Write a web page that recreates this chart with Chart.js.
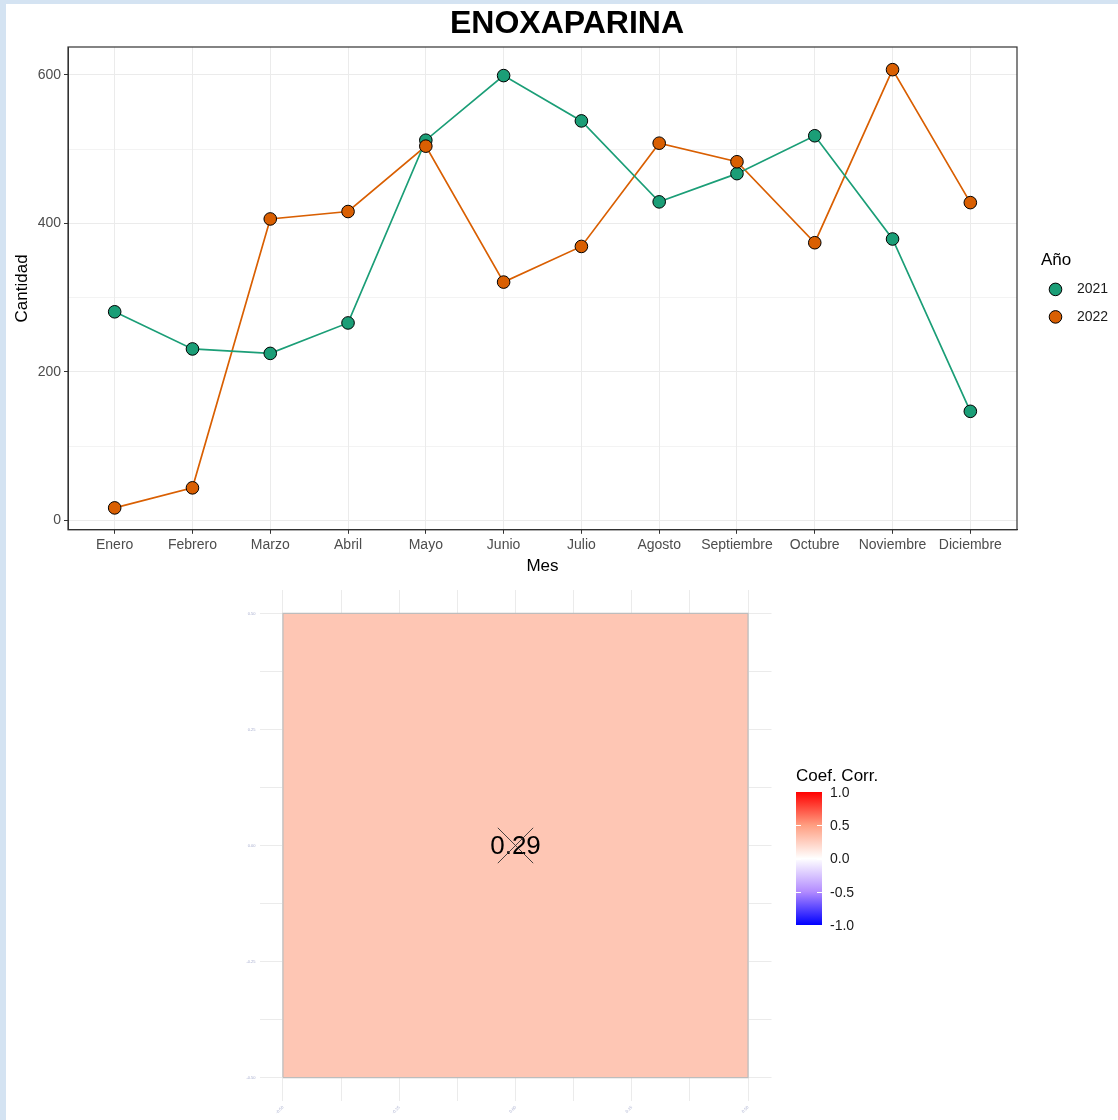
<!DOCTYPE html>
<html><head><meta charset="utf-8">
<script src="https://cdn.jsdelivr.net/npm/chart.js@4.4.0/dist/chart.umd.min.js"></script>
<style>
html,body{margin:0;padding:0;background:#D4E3F2;}
body{width:1118px;height:1120px;position:relative;overflow:hidden;}
#wrap{position:absolute;left:6px;top:4px;width:1112px;height:1116px;background:#fff;}
#c1{position:absolute;left:0;top:0;}
#c2{position:absolute;left:0;top:576px;}
</style></head><body>
<div id="wrap"><canvas id="c1" width="1112" height="576"></canvas><canvas id="c2" width="1112" height="540"></canvas></div>
<script>
// ---- data ----
const months = ['Enero','Febrero','Marzo','Abril','Mayo','Junio','Julio','Agosto','Septiembre','Octubre','Noviembre','Diciembre'];
const year2021 = [281, 231, 225, 266, 512, 599, 538, 429, 467, 518, 379, 147];
const year2022 = [17, 44, 406, 416, 504, 321, 369, 508, 483, 374, 607, 428];
const seriesLabels = ['2021', '2022'];
const yTickLabels = [0, 200, 400, 600];
const chartTitle = 'ENOXAPARINA';
const corrValue = 0.29;
const corrCell = {x: 0, y: 0};
const colorbarTicks = [-1, -0.5, 0, 0.5, 1];

// ---- styles ----
const FONT = "'Liberation Sans', Arial, sans-serif";
const seriesColors = ['#1B9E77', '#D95F02'];
const tileColor = '#FEC6B4';
const colorbarStops = [[-1,'#0000FF'],[-0.5,'#B28BFF'],[0,'#FFFFFF'],[0.5,'#FF9E81'],[1,'#FF0000']];

const toPts = arr => arr.map((v, i) => ({x: i, y: v}));
const isMajor = v => yTickLabels.includes(Math.round(v));

const framePlugin = {
  id: 'frame',
  afterDraw(chart) {
    const {ctx, chartArea: a} = chart;
    ctx.save();
    ctx.strokeStyle = '#333333';
    ctx.lineWidth = 1.2;
    ctx.strokeRect(a.left, a.top, a.right - a.left, a.bottom - a.top);
    ctx.restore();
  }
};

const titlePlugin = {
  id: 'ggTitle',
  afterDraw(chart) {
    const {ctx, width} = chart;
    ctx.save();
    ctx.fillStyle = '#000';
    ctx.font = 'bold 32px ' + FONT;
    ctx.textAlign = 'center';
    ctx.textBaseline = 'middle';
    ctx.fillText(chartTitle, width / 2 + 5, 20);
    ctx.restore();
  }
};

const legendPlugin = {
  id: 'ggLegend',
  afterDraw(chart) {
    const {ctx, chartArea: a} = chart;
    const cy = (a.top + a.bottom) / 2;
    ctx.save();
    ctx.fillStyle = '#000';
    ctx.font = '17px ' + FONT;
    ctx.textBaseline = 'middle';
    ctx.textAlign = 'left';
    ctx.fillText('Año', a.right + 24, cy - 28.5);
    seriesLabels.forEach((lab, i) => {
      const y = cy + 1 + i * 27.5;
      ctx.beginPath();
      ctx.arc(a.right + 38.5, y, 6.3, 0, Math.PI * 2);
      ctx.fillStyle = seriesColors[i];
      ctx.fill();
      ctx.lineWidth = 1;
      ctx.strokeStyle = '#000';
      ctx.stroke();
      ctx.fillStyle = '#1A1A1A';
      ctx.font = '14px ' + FONT;
      ctx.fillText(lab, a.right + 60, y);
    });
    ctx.restore();
  }
};

const lineDatasets = [year2021, year2022].map((arr, i) => ({
  label: seriesLabels[i] + ' línea', data: toPts(arr), showLine: true,
  borderColor: seriesColors[i], borderWidth: 1.7, pointRadius: 0, order: 3
}));
const pointDatasets = [year2021, year2022].map((arr, i) => ({
  label: seriesLabels[i], data: toPts(arr), showLine: false,
  pointRadius: 6.3, pointBackgroundColor: seriesColors[i], pointBorderColor: '#000',
  pointBorderWidth: 1, order: 2 - i
}));

new Chart(document.getElementById('c1'), {
  type: 'scatter',
  data: {datasets: [...lineDatasets, ...pointDatasets]},
  options: {
    responsive: false, animation: false, events: [],
    layout: {autoPadding: false, padding: {left: 6, right: 101, top: 43, bottom: 3}},
    plugins: {legend: {display: false}, tooltip: {enabled: false}, title: {display: false}},
    scales: {
      x: {
        type: 'linear', min: -0.6, max: months.length - 1 + 0.6,
        ticks: {stepSize: 1, includeBounds: false, autoSkip: false, maxRotation: 0, minRotation: 0,
          maxTicksLimit: 40, padding: 3, color: '#4D4D4D', font: {family: FONT, size: 14},
          callback: v => months[Math.round(v)] ?? ''},
        grid: {color: '#EBEBEB', lineWidth: 1, tickLength: 4, tickColor: '#333333'},
        border: {display: true, color: '#333333', width: 1},
        title: {display: true, text: 'Mes', color: '#000', font: {family: FONT, size: 17}, padding: {top: 0, bottom: 0}}
      },
      y: {
        type: 'linear', min: -12.5, max: 637.5,
        afterFit: s => { s.width = 56; },
        ticks: {stepSize: 100, includeBounds: false, padding: 3, color: '#4D4D4D',
          font: {family: FONT, size: 14}, callback: v => isMajor(v) ? String(v) : ''},
        grid: {color: '#EBEBEB', lineWidth: c => (c.tick && isMajor(c.tick.value)) ? 1 : 0.6,
          tickLength: 4, tickColor: c => (c.tick && isMajor(c.tick.value)) ? '#333333' : 'rgba(0,0,0,0)'},
        border: {display: true, color: '#333333', width: 1},
        title: {display: true, text: 'Cantidad', color: '#000', font: {family: FONT, size: 17}, padding: {top: 0, bottom: 0}}
      }
    }
  },
  plugins: [framePlugin, legendPlugin, titlePlugin]
});

// ---- correlation tile chart ----
const c = corrCell;
const tilePoints = [
  {x: c.x - 0.5, y: c.y - 0.5}, {x: c.x + 0.5, y: c.y - 0.5},
  {x: c.x + 0.5, y: c.y + 0.5}, {x: c.x - 0.5, y: c.y + 0.5}, {x: c.x - 0.5, y: c.y - 0.5}
];

const corrTextPlugin = {
  id: 'corrText',
  afterDatasetDraw(chart, args) {
    if (args.index !== 0) return;
    const {ctx, scales} = chart;
    ctx.save();
    ctx.fillStyle = '#000';
    ctx.font = '26px ' + FONT;
    ctx.textAlign = 'center';
    ctx.textBaseline = 'middle';
    ctx.fillText(corrValue.toFixed(2), scales.x.getPixelForValue(c.x), scales.y.getPixelForValue(c.y) + 1);
    ctx.restore();
  }
};

const colorbarPlugin = {
  id: 'colorbar',
  afterDraw(chart) {
    const {ctx, chartArea: a} = chart;
    const barX = a.right + 24.5, barW = 26;
    const yTop = a.top + 202, yBot = yTop + 133;
    const yOf = v => yBot - (v + 1) / 2 * (yBot - yTop);
    ctx.save();
    const g = ctx.createLinearGradient(0, yBot, 0, yTop);
    colorbarStops.forEach(([v, col]) => g.addColorStop((v + 1) / 2, col));
    ctx.fillStyle = g;
    ctx.fillRect(barX, yTop, barW, yBot - yTop);
    ctx.strokeStyle = '#FFFFFF';
    ctx.lineWidth = 1;
    ctx.font = '14px ' + FONT;
    ctx.textBaseline = 'middle';
    ctx.textAlign = 'left';
    colorbarTicks.forEach(v => {
      const y = Math.round(yOf(v)) + 0.5;
      if (v > -1 && v < 1) {
        ctx.beginPath();
        ctx.moveTo(barX, y); ctx.lineTo(barX + 5, y);
        ctx.moveTo(barX + barW - 5, y); ctx.lineTo(barX + barW, y);
        ctx.stroke();
      }
      ctx.fillStyle = '#1A1A1A';
      ctx.fillText(v.toFixed(1), barX + barW + 8, yOf(v) + 1);
    });
    ctx.fillStyle = '#000';
    ctx.font = '17px ' + FONT;
    ctx.fillText('Coef. Corr.', barX, yTop - 16);
    ctx.restore();
  }
};

const tinyTicks = {
  stepSize: 0.125, includeBounds: false, padding: 4, maxTicksLimit: 40,
  color: '#A8AECF', font: {family: FONT, size: 4},
  callback: v => (Math.abs((v * 4) - Math.round(v * 4)) < 1e-6) ? v.toFixed(2) : ''
};

new Chart(document.getElementById('c2'), {
  type: 'scatter',
  data: {datasets: [
    {label: 'Coef. Corr.', data: tilePoints, showLine: true, fill: 'shape',
      backgroundColor: tileColor, borderColor: '#BDBDBD', borderWidth: 1.2, pointRadius: 0, order: 2},
    {label: 'no significativo', data: [{x: c.x, y: c.y}], pointStyle: 'crossRot', pointRadius: 25,
      pointBorderColor: '#333333', pointBorderWidth: 0.9, pointBackgroundColor: 'rgba(0,0,0,0)', order: 1}
  ]},
  options: {
    responsive: false, animation: false, events: [],
    layout: {autoPadding: false, padding: {left: 233.5, right: 346.5, top: 10, bottom: 0}},
    plugins: {legend: {display: false}, tooltip: {enabled: false}},
    scales: {
      x: {type: 'linear', min: -0.5505, max: 0.5505, afterFit: s => { s.height = 19; },
        ticks: {...tinyTicks, maxRotation: 45, minRotation: 45, autoSkip: false},
        grid: {color: '#EBEBEB', lineWidth: 1, drawTicks: false}, border: {display: false}},
      y: {type: 'linear', min: -0.5505, max: 0.5505, afterFit: s => { s.width = 20; },
        ticks: {...tinyTicks, autoSkip: false},
        grid: {color: '#EBEBEB', lineWidth: 1, drawTicks: false}, border: {display: false}}
    }
  },
  plugins: [corrTextPlugin, colorbarPlugin]
});
</script>
</body></html>
